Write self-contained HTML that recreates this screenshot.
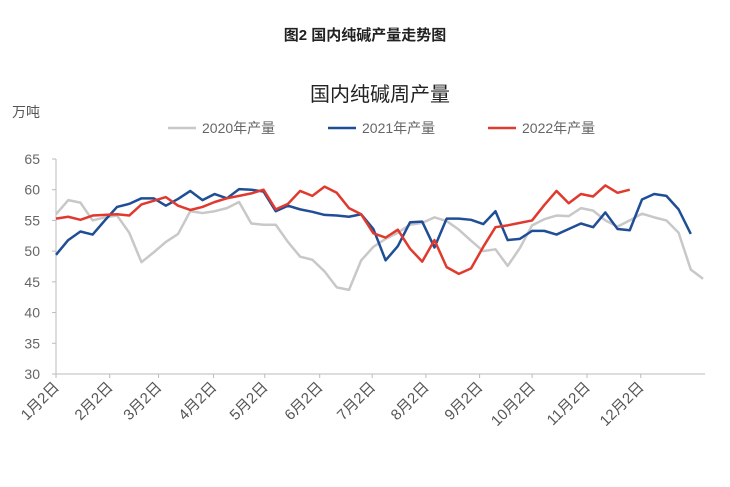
<!DOCTYPE html>
<html><head><meta charset="utf-8"><style>
body{margin:0;background:#fff;width:730px;height:482px;overflow:hidden;font-family:"Liberation Sans","Noto Sans CJK SC",sans-serif}
</style></head><body>
<svg id="c" width="730" height="482" xmlns="http://www.w3.org/2000/svg">
<text x="365" y="40" text-anchor="middle" font-size="15" font-weight="bold" fill="#222">图2  国内纯碱产量走势图</text>
<text x="380" y="101" text-anchor="middle" font-size="20" fill="#222">国内纯碱周产量</text>
<text x="12" y="117" font-size="14" fill="#555">万吨</text>
<g id="legend"></g>
<g id="axes"></g><g id="series"></g>
</svg>
<script>
const yTicks=[30,35,40,45,50,55,60,65];
const xLabels=["1月2日","2月2日","3月2日","4月2日","5月2日","6月2日","7月2日","8月2日","9月2日","10月2日","11月2日","12月2日"];
const xLabelWeeks=[0,4.4,8.4,12.9,17.1,21.6,25.9,30.3,34.7,39,43.5,47.9];
const seriesNames=["2020年产量","2021年产量","2022年产量"];
const s2020=[56,58.3,57.9,55,55.5,55.8,53,48.2,49.8,51.5,52.8,56.5,56.2,56.5,57,58,54.5,54.3,54.3,51.5,49.1,48.6,46.7,44.1,43.7,48.5,50.7,52,53,54.3,54.6,55.5,54.9,53.5,51.7,50,50.3,47.6,50.5,54.2,55.2,55.8,55.7,57,56.6,55,54,55,56.1,55.5,55,53,47,45.5];
const s2021=[49.4,51.8,53.2,52.7,55,57.2,57.7,58.6,58.6,57.4,58.5,59.8,58.3,59.3,58.6,60.1,60,59.7,56.5,57.4,56.8,56.4,55.9,55.8,55.6,56,53.6,48.5,50.8,54.7,54.8,50.6,55.3,55.3,55.1,54.4,56.5,51.8,52,53.3,53.3,52.7,53.6,54.5,53.9,56.3,53.6,53.4,58.4,59.3,59,56.8,52.8];
const s2022=[55.3,55.6,55.1,55.8,55.9,56,55.8,57.6,58.2,58.8,57.4,56.7,57.2,58,58.6,59,59.4,60,56.8,57.7,59.8,59,60.5,59.5,57,56,52.9,52.2,53.5,50.4,48.3,51.8,47.4,46.3,47.2,50.7,53.9,54.2,54.6,55,57.5,59.8,57.8,59.3,58.9,60.7,59.5,60];
const colors=["#c8c8c8","#1f4e96","#e03a2f"];
const NS="http://www.w3.org/2000/svg";
const x0=56,dx=(703-56)/53,yTop=159,yBot=374;
const X=i=>x0+i*dx, Y=v=>yBot-(v-30)/(65-30)*(yBot-yTop);
function mk(t,a,p){const e=document.createElementNS(NS,t);for(const k in a)e.setAttribute(k,a[k]);p.appendChild(e);return e;}
const ax=document.getElementById('axes');
const yl=mk('line',{x1:x0,y1:yTop,x2:x0,y2:yBot,stroke:'#bbb'},ax);

const xl=mk('line',{x1:x0,y1:yBot,x2:705,y2:yBot,stroke:'#bbb'},ax);

yTicks.forEach(v=>{mk('line',{x1:x0-4,y1:Y(v),x2:x0,y2:Y(v),stroke:'#bbb'},ax);
const t=mk('text',{x:40,y:Y(v)+5,'text-anchor':'end','font-size':14,fill:'#666'},ax);t.textContent=v;
});
xLabels.forEach((l,i)=>{const x=X(xLabelWeeks[i]);mk('line',{x1:x,y1:yBot,x2:x,y2:yBot+4,stroke:'#bbb'},ax);
const t=mk('text',{x:x+4,y:yBot+14,'text-anchor':'end','font-size':15,fill:'#555',transform:`rotate(-45 ${x+4} ${yBot+14})`},ax);t.textContent=l;
});
const sg=document.getElementById('series');
[s2020,s2021,s2022].forEach((s,k)=>{const p=mk('polyline',{points:s.map((v,i)=>X(i)+','+Y(v)).join(' '),fill:'none',stroke:colors[k],'stroke-width':2.5,'stroke-linejoin':'round'},sg);
});
const lg=document.getElementById('legend');const lx=[168,328,488];
seriesNames.forEach((n,k)=>{mk('line',{x1:lx[k],y1:128,x2:lx[k]+28,y2:128,stroke:colors[k],'stroke-width':2.5},lg);
const t=mk('text',{x:lx[k]+34,y:133,'font-size':14,fill:'#666'},lg);t.textContent=n;
});
</script>
</body></html>
